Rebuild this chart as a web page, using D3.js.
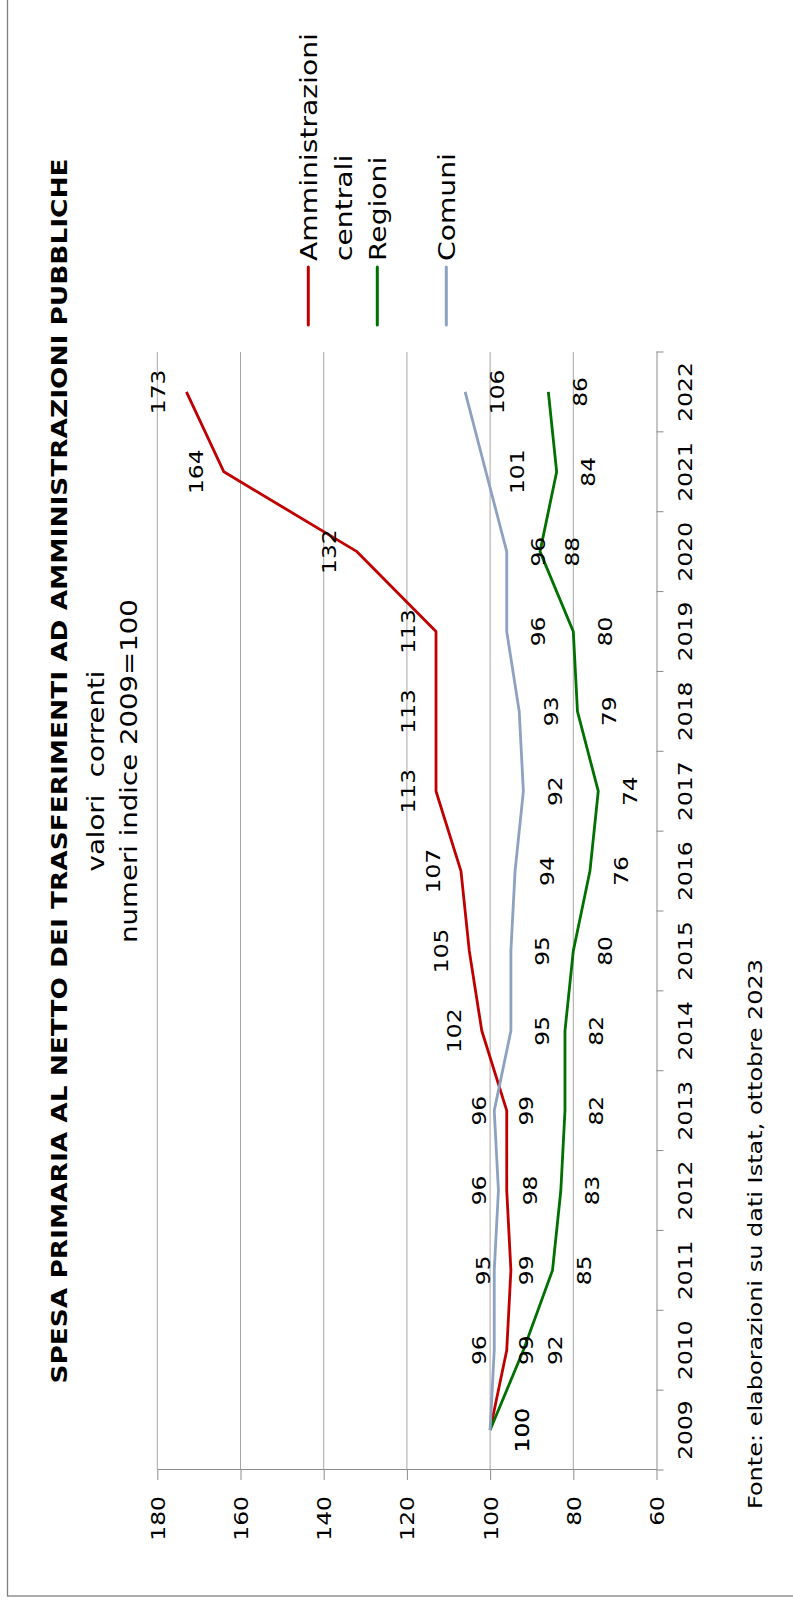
<!DOCTYPE html>
<html>
<head>
<meta charset="utf-8">
<script src="https://cdn.jsdelivr.net/npm/d3@7"></script>
<style>
  body { margin: 0; background: #fff; }
  svg { display: block; font-family: "DejaVu Sans", Verdana, sans-serif; }
</style>
</head>
<body>
<svg width="793" height="1611"></svg>
<script>
// data (indici 2009=100)
var years = ["2009","2010","2011","2012","2013","2014","2015","2016","2017","2018","2019","2020","2021","2022"];
var amministrazioniCentrali = [100, 96, 95, 96, 96, 102, 105, 107, 113, 113, 113, 132, 164, 173];
var regioni = [100, 92, 85, 83, 82, 82, 80, 76, 74, 79, 80, 88, 84, 86];
var comuni = [100, 99, 99, 98, 99, 95, 95, 94, 92, 93, 96, 96, 101, 106];
var valueTicks = [60, 80, 100, 120, 140, 160, 180];

var title = "SPESA PRIMARIA AL NETTO DEI TRASFERIMENTI AD AMMINISTRAZIONI PUBBLICHE";
var subtitle1 = "valori  correnti";
var subtitle2 = "numeri indice 2009=100";
var source = "Fonte: elaborazioni su dati Istat, ottobre 2023";

// the three series start at the same point: only one "100" is shown there
var series = [
  { label: ["Amministrazioni", "centrali"], values: amministrazioniCentrali, color: "#C00000", pos: "above", hideFirst: true },
  { label: ["Regioni"], values: regioni, color: "#007000", pos: "below", hideFirst: false },
  { label: ["Comuni"], values: comuni, color: "#8DA2C0", pos: "below", hideFirst: false }
];

var svg = d3.select("svg"),
    W = +svg.attr("width"),
    H = +svg.attr("height");

// text in the original is a bit wider than DejaVu
var stretch = 1.2;
function place(sel, x, y) {
  sel.attr("transform", "translate(" + x + "," + y + ") scale(" + stretch + ",1)");
}

// outer frame
svg.append("rect")
  .attr("x", 7.5).attr("y", -10)
  .attr("width", W).attr("height", 1606)
  .attr("fill", "none")
  .attr("stroke", "#808080")
  .attr("stroke-width", 1.3);

// whole chart is turned on its side
var g = svg.append("g")
  .attr("transform", "translate(0," + H + ") rotate(-90)");

var x = d3.scaleBand().domain(years).range([141, 1259]);
var y = d3.scaleLinear().domain([60, 180]).range([656.5, 157.3]);
var cx = function(i) { return x(years[i]) + x.bandwidth() / 2; };

// gridlines
g.append("g")
  .selectAll("line")
  .data(valueTicks.filter(function(v) { return v > 60; }))
  .enter()
  .append("line")
  .attr("x1", x.range()[0]).attr("x2", x.range()[1])
  .attr("y1", function(d) { return y(d); })
  .attr("y2", function(d) { return y(d); })
  .attr("stroke", "#a6a6a6")
  .attr("stroke-width", 1);

// value axis
var yAxis = g.append("g")
  .attr("transform", "translate(" + x.range()[0] + ",0)")
  .call(d3.axisLeft(y).tickValues(valueTicks).tickSize(10).tickSizeOuter(0));
yAxis.select(".domain").attr("stroke", "#8c8c8c");
yAxis.selectAll(".tick line").attr("stroke", "#8c8c8c");
yAxis.selectAll(".tick text")
  .attr("x", null)
  .attr("dy", "0.36em")
  .attr("fill", "#000")
  .style("font-size", "19.5px")
  .style("font-family", "DejaVu Sans")
  .each(function() { place(d3.select(this), -26, 0); });

// category axis
var xAxis = g.append("g")
  .attr("transform", "translate(0," + y(60) + ")")
  .call(d3.axisBottom(x).tickSize(0).tickSizeOuter(0));
xAxis.select(".domain").attr("stroke", "#8c8c8c");
xAxis.selectAll(".tick text")
  .attr("y", null)
  .attr("dy", null)
  .attr("fill", "#000")
  .style("font-size", "19.5px")
  .style("font-family", "DejaVu Sans")
  .each(function() { place(d3.select(this), 0, 35.2); });

// tick marks between categories
xAxis.selectAll(".bound")
  .data(d3.range(years.length + 1))
  .enter()
  .append("line")
  .attr("x1", function(i) { return x.range()[0] + i * x.step(); })
  .attr("x2", function(i) { return x.range()[0] + i * x.step(); })
  .attr("y1", 0).attr("y2", 7)
  .attr("stroke", "#8c8c8c");

// lines
var line = d3.line()
  .x(function(d, i) { return cx(i); })
  .y(function(d) { return y(d); });

g.selectAll(".series")
  .data(series)
  .enter()
  .append("path")
  .attr("d", function(s) { return line(s.values); })
  .attr("fill", "none")
  .attr("stroke", function(s) { return s.color; })
  .attr("stroke-width", 2.8)
  .attr("stroke-linejoin", "round");

// data labels
series.forEach(function(s) {
  g.append("g")
    .selectAll("text")
    .data(s.values.map(function(v, i) { return { v: v, i: i }; })
      .filter(function(d) { return !(s.hideFirst && d.i == 0); }))
    .enter()
    .append("text")
    .attr("text-anchor", "middle")
    .style("font-size", "19.5px")
    .attr("fill", "#000")
    .text(function(d) { return d.v; })
    .each(function(d) {
      place(d3.select(this), cx(d.i), y(d.v) + (s.pos == "above" ? -21 : 38.5));
    });
});

// title
g.append("text")
  .attr("text-anchor", "middle")
  .style("font-size", "22px")
  .style("font-weight", "bold")
  .text(title)
  .call(place, 840, 67.3);

g.append("text")
  .attr("text-anchor", "middle")
  .style("font-size", "23px")
  .style("white-space", "pre")
  .text(subtitle1)
  .call(place, 840, 103.5);

g.append("text")
  .attr("text-anchor", "middle")
  .style("font-size", "23px")
  .text(subtitle2)
  .call(place, 840, 136.5);

// source
g.append("text")
  .attr("text-anchor", "middle")
  .style("font-size", "20px")
  .text(source)
  .call(place, 377, 761.7);

// legend
var legend = g.append("g")
  .selectAll("g")
  .data(series)
  .enter()
  .append("g")
  .attr("transform", function(d, i) { return "translate(1286," + (308.3 + i * 69) + ")"; });

legend.append("line")
  .attr("x1", 0).attr("x2", 58)
  .attr("stroke", function(d) { return d.color; })
  .attr("stroke-width", 3)
  .attr("stroke-linecap", "round");

legend.each(function(d) {
  var lg = d3.select(this);
  d.label.forEach(function(t, k) {
    lg.append("text")
      .style("font-size", "23.5px")
      .text(t)
      .call(place, 64, 8.5 + k * 35);
  });
});
</script>
</body>
</html>
